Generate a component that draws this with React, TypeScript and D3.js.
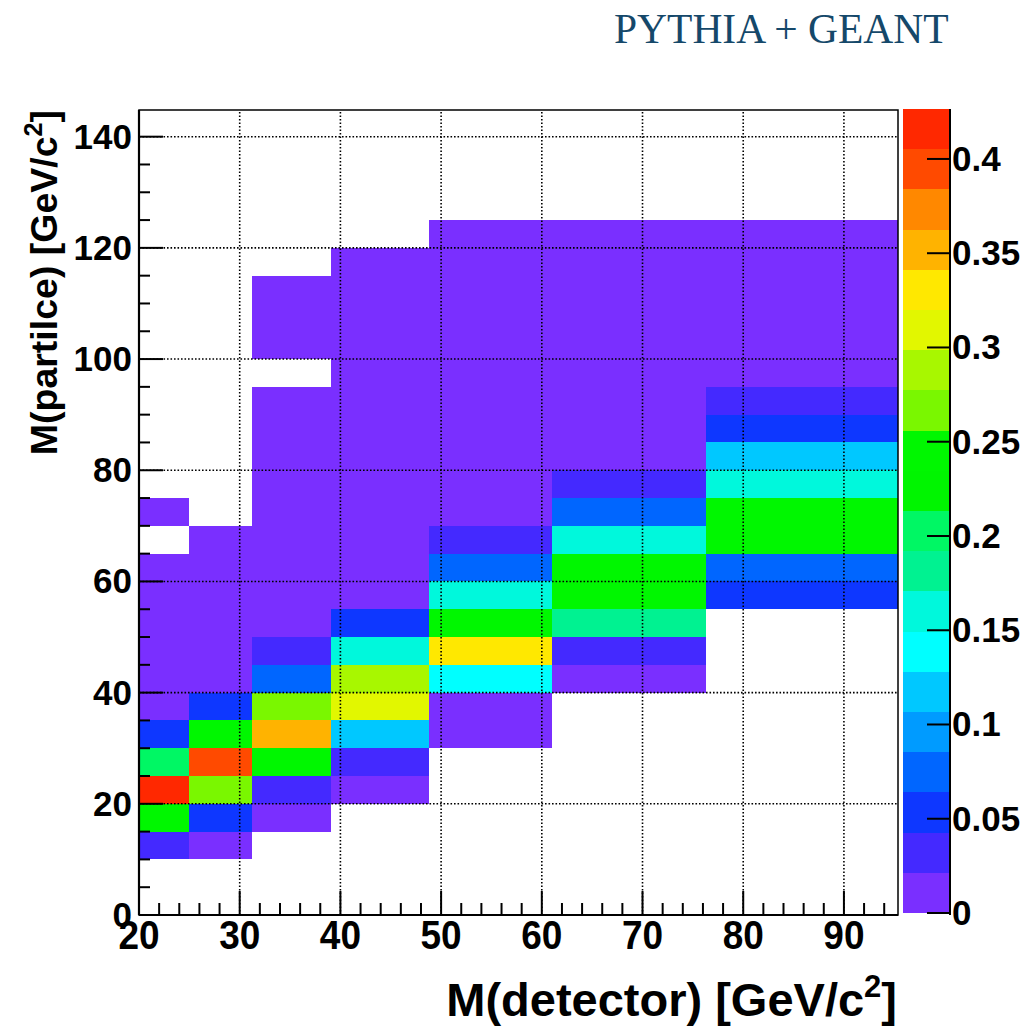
import React from "react";
import * as d3 from "d3";

// Variable-width detector mass bins (GeV/c^2)
const xEdges = [20, 25, 31.25, 39.06, 48.83, 61.04, 76.29, 95.37];
// Particle mass bins (GeV/c^2)
const yEdges = [0, 5, 10, 15, 20, 25, 30, 35, 40, 45, 50, 55, 60, 65, 70, 75, 80, 85, 90, 95, 100, 105, 110, 115, 120, 125];

const xTicks = [20, 30, 40, 50, 60, 70, 80, 90];
const yTicks = [0, 20, 40, 60, 80, 100, 120, 140];
const zTicks = [0, 0.05, 0.1, 0.15, 0.2, 0.25, 0.3, 0.35, 0.4];
const zTickLabels = ["0", "0.05", "0.1", "0.15", "0.2", "0.25", "0.3", "0.35", "0.4"];
const zMax = 0.4265;

// ROOT-like 20-level palette (low -> high)
const palette = [
  "#7a2fff", "#4429ff", "#0e37ff", "#0066ff", "#009bff",
  "#00c8ff", "#00ffff", "#00f8dc", "#00f291", "#00f764",
  "#00f500", "#00f700", "#7af700", "#a8f700", "#e2f700",
  "#ffe800", "#ffb300", "#ff8800", "#ff4a00", "#ff2800",
];

// Cell contents per detector-mass bin, one value per particle-mass bin (0 = empty)
const zBin20to25 = [0, 0, 0.03, 0.235, 0.42, 0.2, 0.05, 0.012, 0.01, 0.01, 0.01, 0.008, 0.006, 0, 0.004, 0, 0, 0, 0, 0, 0, 0, 0, 0, 0];
const zBin25to31 = [0, 0, 0.012, 0.05, 0.265, 0.395, 0.235, 0.05, 0.015, 0.01, 0.008, 0.006, 0.005, 0.004, 0, 0, 0, 0, 0, 0, 0, 0, 0, 0, 0];
const zBin31to39 = [0, 0, 0, 0.01, 0.03, 0.235, 0.35, 0.265, 0.075, 0.03, 0.015, 0.01, 0.008, 0.006, 0.005, 0.004, 0.003, 0.003, 0.002, 0, 0.002, 0.002, 0.001, 0, 0];
const zBin39to49 = [0, 0, 0, 0, 0.012, 0.03, 0.12, 0.31, 0.29, 0.16, 0.05, 0.018, 0.012, 0.01, 0.008, 0.006, 0.005, 0.004, 0.003, 0.003, 0.002, 0.002, 0.002, 0.001, 0];
const zBin49to61 = [0, 0, 0, 0, 0, 0, 0.01, 0.015, 0.14, 0.33, 0.235, 0.16, 0.075, 0.03, 0.015, 0.012, 0.01, 0.008, 0.006, 0.005, 0.004, 0.003, 0.003, 0.002, 0.002];
const zBin61to76 = [0, 0, 0, 0, 0, 0, 0, 0, 0.012, 0.03, 0.18, 0.235, 0.24, 0.16, 0.075, 0.03, 0.018, 0.012, 0.01, 0.008, 0.006, 0.005, 0.004, 0.003, 0.002];
const zBin76to95 = [0, 0, 0, 0, 0, 0, 0, 0, 0, 0, 0, 0.05, 0.075, 0.235, 0.24, 0.16, 0.12, 0.05, 0.03, 0.015, 0.01, 0.008, 0.006, 0.005, 0.004];
const zColumns = [zBin20to25, zBin25to31, zBin31to39, zBin39to49, zBin49to61, zBin61to76, zBin76to95];

const titleText = "PYTHIA + GEANT";

const FONT = "'Liberation Sans', Arial, Helvetica, sans-serif";

export default function App() {
  const W = 1030;
  const H = 1029;
  const x = d3.scaleLinear().domain([20, 95.37]).range([139, 898]);
  const y = d3.scaleLinear().domain([0, 144.8]).range([915, 110]);
  const color = d3.scaleQuantize<string>().domain([0, zMax]).range(palette);
  const zScale = d3.scaleLinear().domain([0, zMax]).range([913, 109]);
  const step = zMax / palette.length;

  const cells: { x0: number; x1: number; y0: number; y1: number; v: number }[] = [];
  zColumns.forEach((col, i) => {
    col.forEach((v, j) => {
      if (v > 0) cells.push({ x0: xEdges[i], x1: xEdges[i + 1], y0: yEdges[j], y1: yEdges[j + 1], v });
    });
  });

  const xMinor = d3.range(20, 95.37, 2).filter((t) => !xTicks.includes(t));
  const yMinor = d3.range(0, 144.8, 5).filter((t) => !yTicks.includes(t));

  const [x0, x1] = x.range();
  const [yb, yt] = y.range();

  return (
    <svg width={W} height={H} style={{ position: "absolute", left: 0, top: 0, background: "#fff" }}>
      <rect x={0} y={0} width={W} height={H} fill="#fff" />
      <text x={614} y={43} fontFamily="'Liberation Serif', 'Times New Roman', serif" fontSize={41.5} fill="#15486a">
        {titleText}
      </text>

      {/* cells */}
      {cells.map((c, k) => (
        <rect
          key={k}
          x={x(c.x0)}
          y={y(c.y1)}
          width={x(c.x1) - x(c.x0)}
          height={y(c.y0) - y(c.y1)}
          fill={color(c.v)}
          shapeRendering="crispEdges"
        />
      ))}

      {/* grid */}
      <g stroke="#000" strokeWidth={1.6} strokeDasharray="1.6 1.9">
        {xTicks.filter((t) => t > 20).map((t) => (
          <line key={"gx" + t} x1={x(t)} x2={x(t)} y1={yb} y2={yt} />
        ))}
        {yTicks.filter((t) => t > 0).map((t) => (
          <line key={"gy" + t} x1={x0} x2={x1} y1={y(t)} y2={y(t)} />
        ))}
      </g>

      {/* frame */}
      <rect x={x0} y={yt} width={x1 - x0} height={yb - yt} fill="none" stroke="#000" strokeWidth={1.5} />
      <line x1={x0} x2={x0} y1={yt} y2={yb} stroke="#000" strokeWidth={2.2} />
      <line x1={x0} x2={x1} y1={yb} y2={yb} stroke="#000" strokeWidth={2.2} />

      {/* ticks */}
      <g stroke="#000" strokeWidth={2}>
        {yTicks.map((t) => (
          <line key={"yt" + t} x1={x0} x2={x0 + 24} y1={y(t)} y2={y(t)} />
        ))}
        {yMinor.map((t) => (
          <line key={"ym" + t} x1={x0} x2={x0 + 11} y1={y(t)} y2={y(t)} />
        ))}
        {xTicks.map((t) => (
          <line key={"xt" + t} x1={x(t)} x2={x(t)} y1={yb} y2={yb - 24} />
        ))}
        {xMinor.map((t) => (
          <line key={"xm" + t} x1={x(t)} x2={x(t)} y1={yb} y2={yb - 12} />
        ))}
      </g>

      {/* tick labels */}
      <g fontFamily={FONT} fontWeight="bold" fill="#000">
        {yTicks.map((t) => (
          <text key={"yl" + t} x={132} y={y(t) + 12} textAnchor="end" fontSize={35}>
            {t}
          </text>
        ))}
        {xTicks.map((t) => (
          <text
            key={"xl" + t}
            transform={`translate(${x(t)},949) scale(1,1.12)`}
            textAnchor="middle"
            fontSize={37}
          >
            {t}
          </text>
        ))}
      </g>

      {/* axis titles */}
      <text x={897} y={1016} textAnchor="end" fontFamily={FONT} fontWeight="bold" fontSize={47}>
        M(detector) [GeV/c<tspan dy={-19} fontSize={31}>2</tspan>
        <tspan dy={19}>]</tspan>
      </text>
      <text
        transform={`translate(57,110) rotate(-90)`}
        textAnchor="end"
        fontFamily={FONT}
        fontWeight="bold"
        fontSize={37.5}
      >
        M(partilce) [GeV/c<tspan dy={-15} fontSize={25}>2</tspan>
        <tspan dy={15}>]</tspan>
      </text>

      {/* color bar */}
      {palette.map((c, k) => (
        <rect
          key={"cb" + k}
          x={903}
          y={zScale((k + 1) * step)}
          width={47}
          height={zScale(k * step) - zScale((k + 1) * step)}
          fill={c}
          shapeRendering="crispEdges"
        />
      ))}
      <line x1={950} x2={950} y1={109} y2={915} stroke="#000" strokeWidth={2} />
      <g stroke="#000" strokeWidth={2}>
        {zTicks.map((t) => (
          <line key={"zt" + t} x1={927} x2={950} y1={zScale(t)} y2={zScale(t)} />
        ))}
      </g>
      <g fontFamily={FONT} fontWeight="bold" fontSize={35} fill="#000">
        {zTicks.map((t, i) => (
          <text key={"zl" + t} x={952} y={zScale(t) + 12}>
            {zTickLabels[i]}
          </text>
        ))}
      </g>
    </svg>
  );
}
